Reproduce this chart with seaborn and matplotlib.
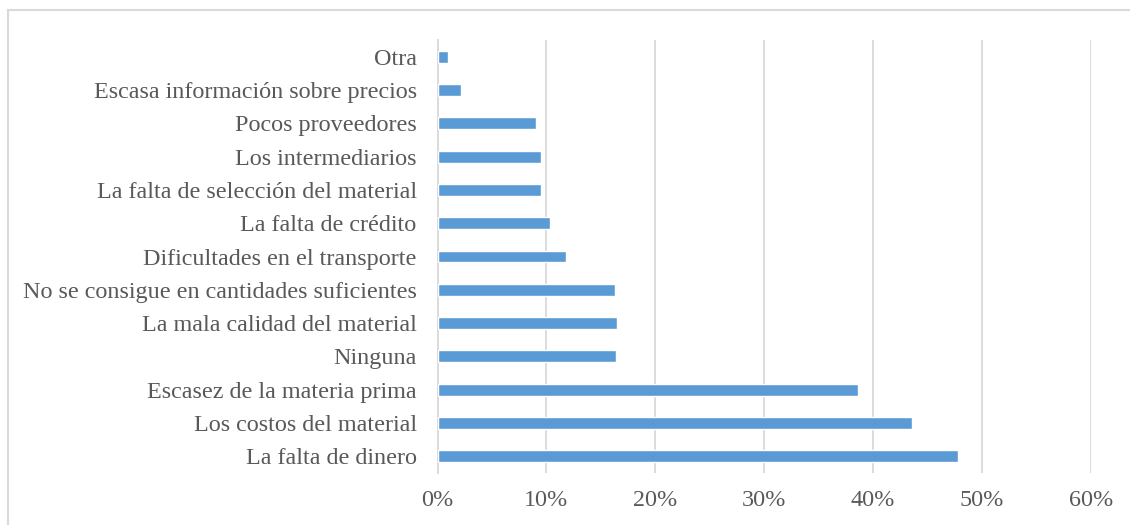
import matplotlib
matplotlib.use("Agg")
import matplotlib.pyplot as plt
import seaborn as sns
import pandas as pd
from matplotlib.patches import Rectangle
from matplotlib.ticker import FuncFormatter

categories = [
    "Otra",
    "Escasa información sobre precios",
    "Pocos proveedores",
    "Los intermediarios",
    "La falta de selección del material",
    "La falta de crédito",
    "Dificultades en el transporte",
    "No se consigue en cantidades suficientes",
    "La mala calidad del material",
    "Ninguna",
    "Escasez de la materia prima",
    "Los costos del material",
    "La falta de dinero",
]
values = [1.0, 2.2, 9.0, 9.5, 9.5, 10.3, 11.8, 16.3, 16.5, 16.4, 38.6, 43.6, 47.8]
xticks = [0, 10, 20, 30, 40, 50, 60]

df = pd.DataFrame({"cat": categories, "val": values})

sns.set_theme(style="white")
plt.rcParams["font.family"] = ["Liberation Serif", "DejaVu Serif"]

fig = plt.figure(figsize=(11.3, 5.25), dpi=100)
ax = fig.add_axes([437.5 / 1130, 1 - 473 / 525, (1091 - 437.5) / 1130, (473 - 40) / 525])

sns.barplot(data=df, x="val", y="cat", order=categories, orient="h",
            color="#5B9BD5", width=0.36, saturation=1, ax=ax, zorder=3)

ax.set_xlim(0, 60)
ax.set_ylim(12.5, -0.5)
ax.set_xticks(xticks)
ax.xaxis.set_major_formatter(FuncFormatter(lambda v, p: f"{int(v)}%"))
ax.grid(axis="x", color="#D9D9D9", linewidth=1.3, zorder=0)
ax.set_axisbelow(True)
for s in ["top", "right", "bottom"]:
    ax.spines[s].set_visible(False)
ax.spines["left"].set_color("#D9D9D9")
ax.spines["left"].set_linewidth(1.3)
ax.set_xlabel("")
ax.set_ylabel("")
ax.tick_params(axis="y", length=0, pad=15, labelsize=17.4, labelcolor="#595959")
ax.tick_params(axis="x", length=0, pad=12, labelsize=17.4, labelcolor="#595959")

fig.patches.append(Rectangle((8 / 1130, -10 / 525), 1140 / 1130, 525 / 525,
                             transform=fig.transFigure, fill=False,
                             edgecolor="#D9D9D9", linewidth=1.5))

fig.savefig("out.png", dpi=100, facecolor="white")
